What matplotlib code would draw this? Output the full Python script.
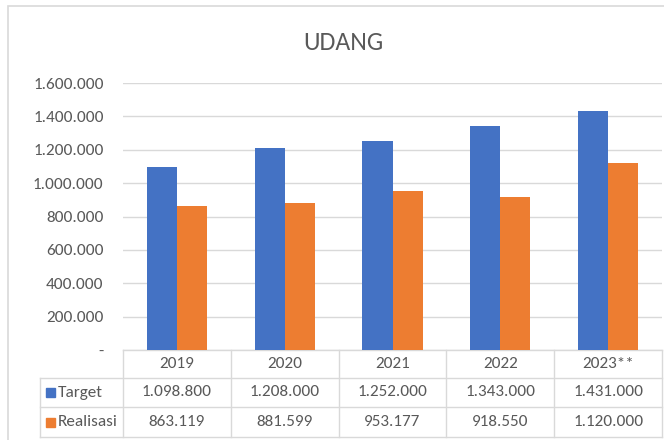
import matplotlib
matplotlib.use("Agg")
import matplotlib.pyplot as plt
from matplotlib import font_manager
from matplotlib.patches import Rectangle
from matplotlib.lines import Line2D
import numpy as np

years = ["2019", "2020", "2021", "2022", "2023**"]
target = [1098800, 1208000, 1252000, 1343000, 1431000]
realisasi = [863119, 881599, 953177, 918550, 1120000]
series_names = ["Target", "Realisasi"]
y_ticks = [0, 200000, 400000, 600000, 800000, 1000000, 1200000, 1400000, 1600000]

BLUE = "#4472C4"
ORANGE = "#ED7D31"
TEXT = "#595959"
GRID = "#D9D9D9"

available = {f.name for f in font_manager.fontManager.ttflist}
family = "Liberation Sans"
for cand in ["Carlito", "Liberation Sans Narrow", "DejaVu Sans Condensed", "Liberation Sans"]:
    if cand in available:
        family = cand
        break
plt.rcParams["font.family"] = [family, "DejaVu Sans"]
fs = 11 if family == "Liberation Sans" else 12.3


def fmt(v):
    if v == 0:
        return "-"
    return f"{v:,.0f}".replace(",", ".")


W, H = 664, 440
fig = plt.figure(figsize=(W / 100, H / 100), dpi=100)

# pixel layout of the plot area
left_px, right_px, top_px, bottom_px = 123, 662, 83, 350
ax = fig.add_axes([left_px / W, 1 - bottom_px / H, (right_px - left_px) / W, (bottom_px - top_px) / H])

# outer chart border
fig.patches.append(Rectangle((8 / W, -0.1), 1.2, 1 - 6 / H + 0.1, transform=fig.transFigure,
                             fill=False, edgecolor=GRID, linewidth=1.2))

x = np.arange(len(years))
bw = 0.28
ax.bar(x - bw / 2, target, bw, color=BLUE, zorder=3)
ax.bar(x + bw / 2, realisasi, bw, color=ORANGE, zorder=3)

ax.set_xlim(-0.5, len(years) - 0.5)
ax.set_ylim(0, 1600000)
ax.set_yticks(y_ticks)
ax.set_yticklabels([fmt(v) for v in y_ticks], color=TEXT, fontsize=fs)
ax.tick_params(axis="y", length=0, pad=14)
ax.set_xticks([])
ax.grid(axis="y", color=GRID, linewidth=1, zorder=0)
for s in ax.spines.values():
    s.set_visible(False)

fig.text(343 / W, 1 - 42 / H, "UDANG", ha="center", va="center", fontsize=18.5, color=TEXT)

# data table below the axis
px_per_cat = (right_px - left_px) / len(years)
def ax_y(py):
    return (bottom_px - py) / (bottom_px - top_px)

rows_py = [350, 378, 407, 437]
legend_left = -0.5 - (left_px - 40) / px_per_cat
tr = ax.get_xaxis_transform()
kw = dict(transform=tr, clip_on=False, color=GRID, linewidth=1)

ax.add_line(Line2D([-0.5, 4.5], [0, 0], **kw))
for py in rows_py[1:]:
    ax.add_line(Line2D([legend_left, 4.5], [ax_y(py)] * 2, **kw))
for i in range(len(years) + 1):
    ax.add_line(Line2D([i - 0.5] * 2, [0, ax_y(rows_py[-1])], **kw))
ax.add_line(Line2D([legend_left] * 2, [ax_y(rows_py[1]), ax_y(rows_py[-1])], **kw))

def row_mid(r):
    return (ax_y(rows_py[r]) + ax_y(rows_py[r + 1])) / 2

for i, yr in enumerate(years):
    ax.text(i, row_mid(0), yr, transform=tr, ha="center", va="center", fontsize=fs, color=TEXT)
    ax.text(i, row_mid(1), fmt(target[i]), transform=tr, ha="center", va="center", fontsize=fs, color=TEXT)
    ax.text(i, row_mid(2), fmt(realisasi[i]), transform=tr, ha="center", va="center", fontsize=fs, color=TEXT)

for r, (name, col) in enumerate(zip(series_names, [BLUE, ORANGE]), start=1):
    ym = row_mid(r)
    sq = 9 / (bottom_px - top_px)
    ax.add_patch(Rectangle((legend_left + 6 / px_per_cat, ym - sq / 2), 9 / px_per_cat, sq,
                           transform=tr, clip_on=False, color=col))
    ax.text(legend_left + 18 / px_per_cat, ym, name, transform=tr, ha="left", va="center",
            fontsize=fs, color=TEXT)

fig.savefig("out.png", dpi=100)
